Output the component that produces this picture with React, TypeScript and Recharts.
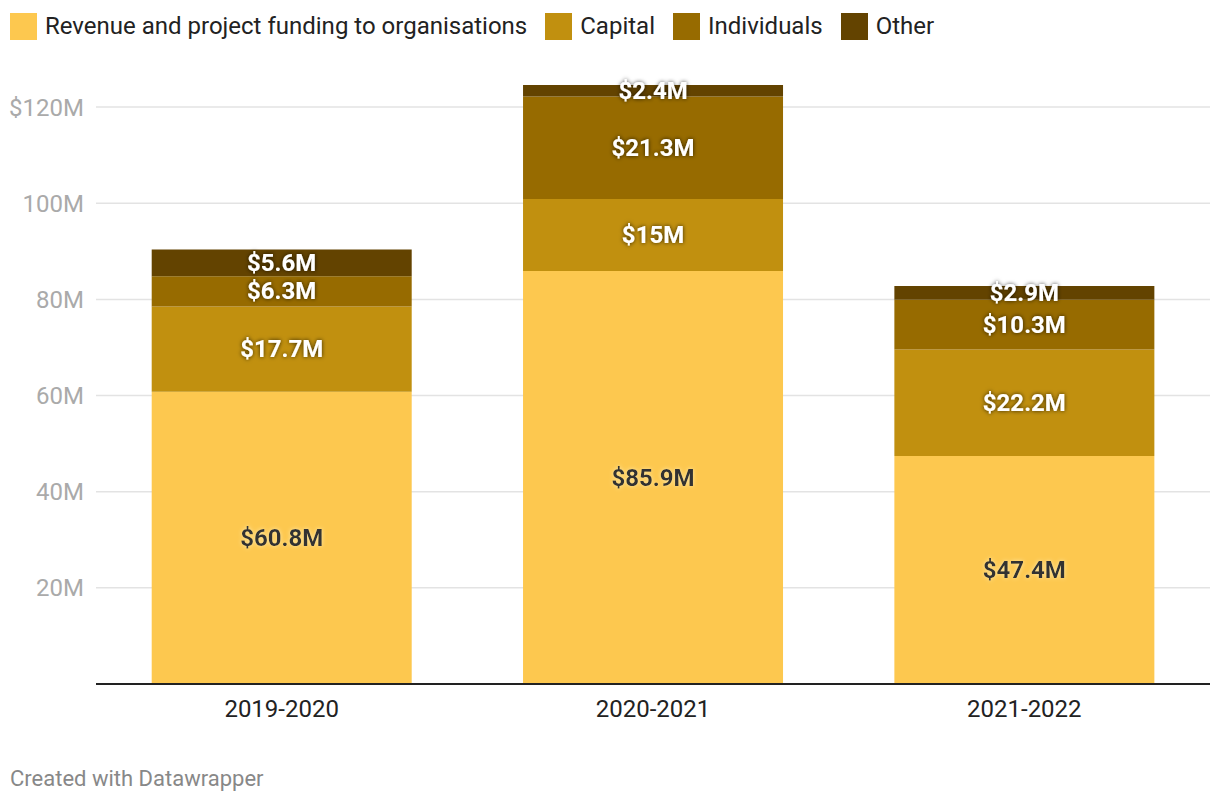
import React from 'react';
import { BarChart, Bar, XAxis, YAxis, CartesianGrid, LabelList } from 'recharts';

const years = ['2019-2020', '2020-2021', '2021-2022'];
const revenue = [60.8, 85.9, 47.4];
const capital = [17.7, 15, 22.2];
const individuals = [6.3, 21.3, 10.3];
const other = [5.6, 2.4, 2.9];
const yTicks = [0, 20, 40, 60, 80, 100, 120];
const gridValues = [20, 40, 60, 80, 100, 120];

const series = [
  { key: 'revenue', name: 'Revenue and project funding to organisations', color: '#fdc84f', text: '#333333', glow: '#fde8a8' },
  { key: 'capital', name: 'Capital', color: '#c1900f', text: '#ffffff', glow: 'rgba(0,0,0,0.75)' },
  { key: 'individuals', name: 'Individuals', color: '#976b00', text: '#ffffff', glow: 'rgba(0,0,0,0.75)' },
  { key: 'other', name: 'Other', color: '#634300', text: '#ffffff', glow: 'rgba(0,0,0,0.75)' },
];

const data = years.map((year, i) => ({
  year,
  revenue: revenue[i],
  capital: capital[i],
  individuals: individuals[i],
  other: other[i],
}));

const FONT = 'Roboto, "Noto Sans", sans-serif';

let labelId = 0;

const makeLabel = (textColor: string, glow: string) => (props: any) => {
  const { x, y, width, height, value } = props;
  const id = `glow-${labelId++}`;
  const cx = Number(x) + Number(width) / 2;
  const cy = Number(y) + Number(height) / 2;
  return (
    <g>
      <defs>
        <filter id={id} x="-20%" y="-40%" width="140%" height="180%">
          <feGaussianBlur in="SourceAlpha" stdDeviation="2" result="blur" />
          <feFlood floodColor={glow} result="color" />
          <feComposite in="color" in2="blur" operator="in" result="shadow" />
          <feMerge>
            <feMergeNode in="shadow" />
            <feMergeNode in="SourceGraphic" />
          </feMerge>
        </filter>
      </defs>
      <text
        x={cx}
        y={cy}
        textAnchor="middle"
        dominantBaseline="central"
        fill={textColor}
        fontFamily={FONT}
        fontWeight={700}
        fontSize={24}
        filter={`url(#${id})`}
      >
        {`$${value}M`}
      </text>
    </g>
  );
};

const yFormat = (v: number) => (v === 0 ? '' : v === 120 ? '$120M' : `${v}M`);

export default function App() {
  return (
    <div style={{ position: 'absolute', left: 0, top: 0, width: 1220, height: 806, background: '#fff', fontFamily: FONT }}>
      <div style={{ position: 'absolute', left: 10, top: 12, display: 'flex', alignItems: 'center', fontSize: 24, color: '#222' }}>
        {series.map((s) => (
          <div key={s.key} style={{ display: 'flex', alignItems: 'center', marginRight: 18 }}>
            <div style={{ width: 27, height: 27, background: s.color, marginRight: 8 }} />
            <span>{s.name}</span>
          </div>
        ))}
      </div>
      <BarChart
        width={1220}
        height={806}
        data={data}
        margin={{ top: 59, right: 10, left: 0, bottom: 92 }}
        barCategoryGap="15%"
      >
        <CartesianGrid vertical={false} stroke="#e3e3e3" strokeWidth={1.5} horizontalValues={gridValues} />
        <YAxis
          type="number"
          domain={[0, 130]}
          ticks={yTicks}
          tickFormatter={yFormat}
          axisLine={false}
          tickLine={false}
          tickSize={0}
          tickMargin={12}
          width={96}
          tick={{ fill: '#aaaaaa', fontSize: 24, fontFamily: FONT }}
        />
        <XAxis
          dataKey="year"
          axisLine={{ stroke: '#222', strokeWidth: 2 }}
          tickLine={false}
          tickSize={0}
          tickMargin={16}
          tick={{ fill: '#222', fontSize: 24, fontFamily: FONT }}
        />
        {series.map((s) => (
          <Bar key={s.key} dataKey={s.key} name={s.name} stackId="a" fill={s.color} isAnimationActive={false}>
            <LabelList dataKey={s.key} content={makeLabel(s.text, s.glow)} />
          </Bar>
        ))}
      </BarChart>
      <div style={{ position: 'absolute', left: 10, top: 766, fontSize: 22, color: '#888' }}>Created with Datawrapper</div>
    </div>
  );
}
